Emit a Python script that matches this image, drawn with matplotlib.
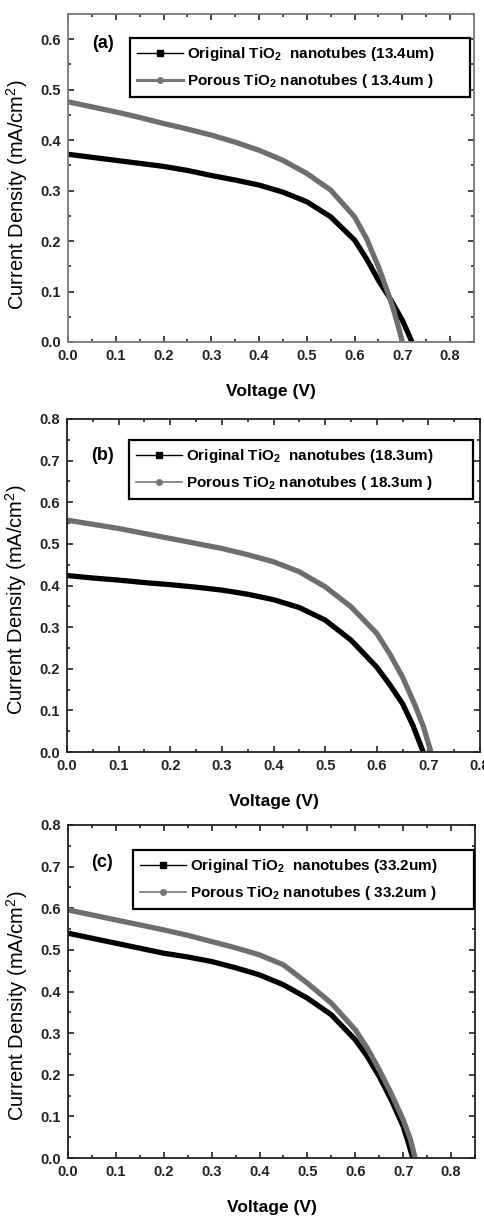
import matplotlib
matplotlib.use("Agg")
import matplotlib.pyplot as plt
from matplotlib.ticker import MultipleLocator, FormatStrFormatter
from matplotlib.lines import Line2D

plt.rcParams['font.family'] = ['Liberation Sans', 'DejaVu Sans']
plt.rcParams['font.weight'] = 'bold'
plt.rcParams['mathtext.fontset'] = 'custom'
plt.rcParams['mathtext.rm'] = 'Liberation Sans'
plt.rcParams['mathtext.bf'] = 'Liberation Sans:bold'
plt.rcParams['mathtext.default'] = 'bf'

# Panel (a)
va_orig = [0.0, 0.05, 0.1, 0.15, 0.2, 0.25, 0.3, 0.35, 0.4, 0.45, 0.5, 0.55, 0.6, 0.625, 0.65, 0.675, 0.7, 0.71, 0.72]
ja_orig = [0.372, 0.366, 0.360, 0.354, 0.348, 0.340, 0.330, 0.321, 0.311, 0.297, 0.278, 0.248, 0.202, 0.165, 0.122, 0.085, 0.043, 0.022, 0.0]
va_por = [0.0, 0.05, 0.1, 0.15, 0.2, 0.25, 0.3, 0.35, 0.4, 0.45, 0.5, 0.55, 0.6, 0.625, 0.65, 0.665, 0.68, 0.69, 0.70]
ja_por = [0.476, 0.466, 0.456, 0.445, 0.433, 0.422, 0.410, 0.396, 0.380, 0.360, 0.334, 0.301, 0.248, 0.205, 0.149, 0.110, 0.069, 0.036, 0.0]

# Panel (b)
vb_orig = [0.0, 0.05, 0.1, 0.15, 0.2, 0.25, 0.3, 0.35, 0.4, 0.45, 0.5, 0.55, 0.6, 0.625, 0.65, 0.67, 0.69]
jb_orig = [0.424, 0.418, 0.413, 0.407, 0.402, 0.396, 0.389, 0.379, 0.366, 0.347, 0.317, 0.269, 0.204, 0.162, 0.116, 0.064, 0.0]
vb_por = [0.0, 0.05, 0.1, 0.15, 0.2, 0.25, 0.3, 0.35, 0.4, 0.45, 0.5, 0.55, 0.6, 0.625, 0.65, 0.675, 0.69, 0.705]
jb_por = [0.557, 0.547, 0.537, 0.525, 0.513, 0.501, 0.489, 0.474, 0.457, 0.433, 0.397, 0.349, 0.285, 0.236, 0.180, 0.110, 0.062, 0.0]

# Panel (c)
vc_orig = [0.0, 0.05, 0.1, 0.15, 0.2, 0.25, 0.3, 0.35, 0.4, 0.45, 0.5, 0.55, 0.6, 0.625, 0.65, 0.675, 0.7, 0.71, 0.72]
jc_orig = [0.540, 0.528, 0.516, 0.504, 0.492, 0.483, 0.472, 0.457, 0.440, 0.416, 0.384, 0.344, 0.284, 0.244, 0.196, 0.140, 0.076, 0.040, 0.0]
vc_por = [0.0, 0.05, 0.1, 0.15, 0.2, 0.25, 0.3, 0.35, 0.4, 0.45, 0.5, 0.55, 0.6, 0.625, 0.65, 0.675, 0.7, 0.715, 0.725]
jc_por = [0.596, 0.584, 0.572, 0.560, 0.548, 0.535, 0.520, 0.505, 0.488, 0.464, 0.420, 0.372, 0.308, 0.264, 0.212, 0.155, 0.092, 0.045, 0.0]

panel_labels = ['(a)', '(b)', '(c)']
thick = ['13.4um', '18.3um', '33.2um']
xmax = [0.85, 0.8, 0.85]
ymax = [0.65, 0.8, 0.8]

data = [(va_orig, ja_orig, va_por, ja_por),
        (vb_orig, jb_orig, vb_por, jb_por),
        (vc_orig, jc_orig, vc_por, jc_por)]

fig = plt.figure(figsize=(4.84, 12.17), dpi=100)
W, H = 484, 1217
# axes pixel boxes: left, top, right, bottom
boxes = [(68, 14, 474, 342), (67, 419, 480, 752), (68, 825, 475, 1158)]
spine_col = ['#7a7a7a', '#222222', '#222222']
legend_boxes = [(0.153, 0.747, 0.837, 0.198), (0.150, 0.760, 0.833, 0.189), (0.160, 0.748, 0.838, 0.192)]
label_pos = [(0.085, 0.91), (0.085, 0.89), (0.083, 0.886)]
ylabel_y = [0.448, 0.456, 0.456]
por_lw = [2.2, 1.2, 1.2]

for i in range(3):
    l, t, r, b = boxes[i]
    ax = fig.add_axes([l / W, 1 - b / H, (r - l) / W, (b - t) / H])
    vo, jo, vp, jp = data[i]
    ax.plot(vo, jo, color='black', lw=3.8, solid_capstyle='butt')
    ax.plot(vp, jp, color='#6e6e6e', lw=3.8, solid_capstyle='butt')
    ax.set_xlim(0, xmax[i])
    ax.set_ylim(0, ymax[i])
    ax.xaxis.set_major_locator(MultipleLocator(0.1))
    ax.xaxis.set_minor_locator(MultipleLocator(0.05))
    ax.yaxis.set_major_locator(MultipleLocator(0.1))
    ax.yaxis.set_minor_locator(MultipleLocator(0.05))
    ax.tick_params(which='both', direction='in', top=True, right=True, width=1.2, colors='#222222')
    ax.tick_params(which='major', length=4, labelsize=10.5, pad=5)
    ax.tick_params(which='minor', length=2)
    ax.xaxis.set_major_formatter(FormatStrFormatter('%.1f'))
    ax.yaxis.set_major_formatter(FormatStrFormatter('%.1f'))
    for lab in ax.get_xticklabels() + ax.get_yticklabels():
        lab.set_fontweight('bold')
    for s in ax.spines.values():
        s.set_color(spine_col[i])
        s.set_linewidth(1.3)
    ax.set_xlabel('Voltage (V)', fontsize=12.5, fontweight='bold', labelpad=15)
    ax.set_ylabel('Current Density (mA/cm$^\\mathregular{2}$)', fontsize=14.5, fontweight='normal')
    ax.yaxis.set_label_coords(-0.094 * 406 / (r - l), ylabel_y[i])
    ax.text(label_pos[i][0], label_pos[i][1], panel_labels[i], transform=ax.transAxes, fontsize=13,
            fontweight='bold', ha='center', va='center')
    h1 = Line2D([], [], color='black', lw=1.0, marker='s', ms=4)
    h2 = Line2D([], [], color='#777777', lw=por_lw[i], marker='o', ms=4)
    leg = ax.legend([h1, h2], ['Original TiO$_2$  nanotubes (%s)' % thick[i],
                               'Porous TiO$_2$ nanotubes ( %s )' % thick[i]],
                    loc='lower left', bbox_to_anchor=legend_boxes[i], mode='expand',
                    prop={'size': 11, 'weight': 'bold'}, frameon=True, fancybox=False, framealpha=1,
                    edgecolor='black', handlelength=3.0, handletextpad=0.3,
                    borderpad=0.45, labelspacing=0.6, borderaxespad=0)
    leg.get_frame().set_linewidth(1.6)

fig.savefig('out.png', dpi=100)
